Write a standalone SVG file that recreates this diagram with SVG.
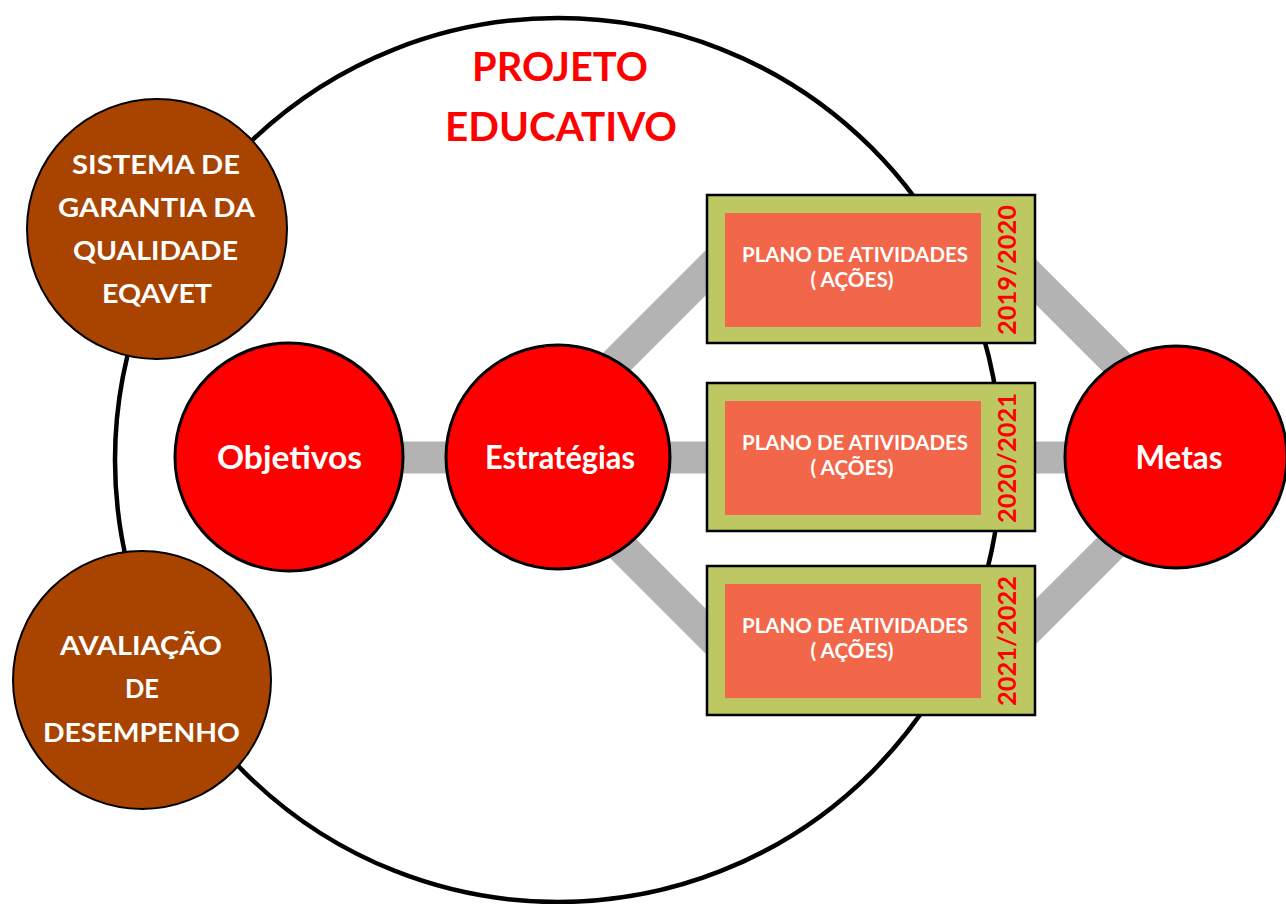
<svg xmlns="http://www.w3.org/2000/svg" width="1286" height="904" viewBox="0 0 1286 904">
  <style>
    .lbl { font-family: Lato, "Open Sans", "Liberation Sans", sans-serif; font-weight: bold; text-anchor: middle; }
    .w { fill: #FFFFFF; }
    .red { fill: #FF0000; }
    .node { fill: #FF0000; stroke: #000000; stroke-width: 3; }
    .brown { fill: #A94400; stroke: #000000; stroke-width: 2; }
    .box { fill: #BDC862; stroke: #000000; stroke-width: 2.5; }
    .inner { fill: #F26649; }
    .conn { stroke: #B3B3B3; stroke-width: 32; fill: none; }
  </style>
  <rect x="0" y="0" width="1286" height="904" fill="#FFFFFF"/>

  <g id="projeto-educativo">
    <ellipse cx="558" cy="460" rx="443" ry="442" fill="none" stroke="#000000" stroke-width="4.5"/>
    <text class="lbl red" x="560" y="81" font-size="41" textLength="176" lengthAdjust="spacingAndGlyphs">PROJETO</text>
    <text class="lbl red" x="561" y="141" font-size="41" textLength="232" lengthAdjust="spacingAndGlyphs">EDUCATIVO</text>
  </g>

  <g id="connectors">
    <line class="conn" x1="289" y1="457.5" x2="1176" y2="457.5"/>
    <line class="conn" x1="575" y1="403.5" x2="720" y2="258.5"/>
    <line class="conn" x1="575" y1="500.5" x2="720" y2="645.5"/>
    <line class="conn" x1="1020" y1="266" x2="1160" y2="406"/>
    <line class="conn" x1="1020" y1="637.5" x2="1160" y2="497.5"/>
  </g>

  <g id="plano-2019-2020">
    <rect class="box" x="707" y="195" width="328" height="148"/>
    <rect class="inner" x="725" y="213" width="256" height="114"/>
    <text class="lbl w" x="855" y="262" font-size="21" textLength="226" lengthAdjust="spacingAndGlyphs">PLANO DE ATIVIDADES</text>
    <text class="lbl w" x="852" y="287" font-size="21" textLength="83" lengthAdjust="spacingAndGlyphs">( AÇÕES)</text>
    <text class="lbl red" font-size="24" textLength="130" lengthAdjust="spacingAndGlyphs" transform="translate(1016,270) rotate(-90)" x="0" y="0">2019/2020</text>
  </g>

  <g id="plano-2020-2021">
    <rect class="box" x="707" y="383" width="328" height="148"/>
    <rect class="inner" x="725" y="401" width="256" height="114"/>
    <text class="lbl w" x="855" y="450" font-size="21" textLength="226" lengthAdjust="spacingAndGlyphs">PLANO DE ATIVIDADES</text>
    <text class="lbl w" x="852" y="475" font-size="21" textLength="83" lengthAdjust="spacingAndGlyphs">( AÇÕES)</text>
    <text class="lbl red" font-size="24" textLength="130" lengthAdjust="spacingAndGlyphs" transform="translate(1016,458) rotate(-90)" x="0" y="0">2020/2021</text>
  </g>

  <g id="plano-2021-2022">
    <rect class="box" x="707" y="566" width="328" height="149"/>
    <rect class="inner" x="725" y="584" width="256" height="114"/>
    <text class="lbl w" x="855" y="633" font-size="21" textLength="226" lengthAdjust="spacingAndGlyphs">PLANO DE ATIVIDADES</text>
    <text class="lbl w" x="852" y="658" font-size="21" textLength="83" lengthAdjust="spacingAndGlyphs">( AÇÕES)</text>
    <text class="lbl red" font-size="24" textLength="130" lengthAdjust="spacingAndGlyphs" transform="translate(1016,641) rotate(-90)" x="0" y="0">2021/2022</text>
  </g>

  <g id="objetivos">
    <circle class="node" cx="289" cy="457" r="114"/>
    <text class="lbl w" x="289.5" y="469" font-size="33" textLength="145" lengthAdjust="spacingAndGlyphs">Objetivos</text>
  </g>

  <g id="estrategias">
    <circle class="node" cx="558" cy="457" r="112"/>
    <text class="lbl w" x="560" y="469" font-size="33" textLength="150" lengthAdjust="spacingAndGlyphs">Estratégias</text>
  </g>

  <g id="metas">
    <circle class="node" cx="1176" cy="457" r="111"/>
    <text class="lbl w" x="1179" y="469" font-size="33" textLength="87" lengthAdjust="spacingAndGlyphs">Metas</text>
  </g>

  <g id="sistema-garantia">
    <circle class="brown" cx="157" cy="229" r="130"/>
    <text class="lbl w" x="156" y="174" font-size="27" textLength="168" lengthAdjust="spacingAndGlyphs">SISTEMA DE</text>
    <text class="lbl w" x="156.5" y="217" font-size="27" textLength="197" lengthAdjust="spacingAndGlyphs">GARANTIA DA</text>
    <text class="lbl w" x="155.5" y="260" font-size="27" textLength="165" lengthAdjust="spacingAndGlyphs">QUALIDADE</text>
    <text class="lbl w" x="157" y="303" font-size="27" textLength="110" lengthAdjust="spacingAndGlyphs">EQAVET</text>
  </g>

  <g id="avaliacao-desempenho">
    <circle class="brown" cx="142" cy="680" r="129"/>
    <text class="lbl w" x="141" y="655" font-size="27" textLength="162" lengthAdjust="spacingAndGlyphs">AVALIAÇÃO</text>
    <text class="lbl w" x="142" y="698" font-size="27" textLength="34" lengthAdjust="spacingAndGlyphs">DE</text>
    <text class="lbl w" x="141.5" y="742" font-size="27" textLength="197" lengthAdjust="spacingAndGlyphs">DESEMPENHO</text>
  </g>
</svg>
